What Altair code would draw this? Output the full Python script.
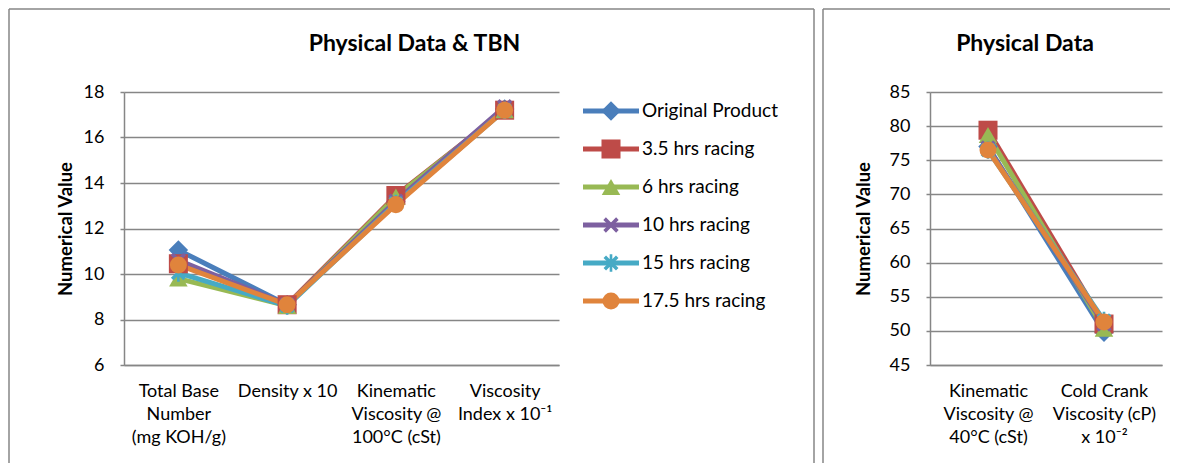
import altair as alt
import pandas as pd

FONT = "Lato"

series = ["Original Product", "3.5 hrs racing", "6 hrs racing",
          "10 hrs racing", "15 hrs racing", "17.5 hrs racing"]
colors = ["#4A7EBB", "#BE4B48", "#98B954", "#7D60A0", "#46AAC5", "#E0843C"]

cats_left = ["Total Base|Number|(mg KOH/g)", "Density x 10",
             "Kinematic|Viscosity @|100°C (cSt)", "Viscosity|Index x 10⁻¹"]
cats_right = ["Kinematic|Viscosity @|40°C (cSt)", "Cold Crank|Viscosity (cP)|x 10⁻²"]

left_original = [11.05, 8.65, 13.2, 17.25]
left_35 = [10.45, 8.65, 13.45, 17.2]
left_6 = [9.8, 8.6, 13.4, 17.2]
left_10 = [10.6, 8.65, 13.2, 17.35]
left_15 = [10.05, 8.6, 13.1, 17.2]
left_175 = [10.4, 8.65, 13.05, 17.2]

right_original = [77.0, 49.8]
right_35 = [79.4, 51.0]
right_6 = [78.7, 50.3]
right_10 = [76.8, 51.0]
right_15 = [76.5, 51.5]
right_175 = [76.5, 51.3]

y_ticks_left = [6, 8, 10, 12, 14, 16, 18]
y_ticks_right = [45, 50, 55, 60, 65, 70, 75, 80, 85]

left_vals = [left_original, left_35, left_6, left_10, left_15, left_175]
right_vals = [right_original, right_35, right_6, right_10, right_15, right_175]

X_PATH = ("M0.566,-0.849L0.849,-0.566L0.283,0L0.849,0.566L0.566,0.849L0,0.283"
          "L-0.566,0.849L-0.849,0.566L-0.283,0L-0.849,-0.566L-0.566,-0.849L0,-0.283Z")
AST_PATH = X_PATH + "M-0.15,-1L0.15,-1L0.15,1L-0.15,1Z"
shapes = ["diamond", "square", "triangle-up", X_PATH, AST_PATH, "circle"]
sizes_plot = [380, 290, 300, 170, 170, 420]
sizes_leg = [90, 140, 120, 80, 80, 160]


def long_df(cats, vals):
    rows = []
    for s, v in zip(series, vals):
        for c, val in zip(cats, v):
            rows.append({"series": s, "cat": c, "value": val})
    return pd.DataFrame(rows)


color_scale = alt.Scale(domain=series, range=colors)
shape_scale = alt.Scale(domain=series, range=shapes)
GRID = "#868686"
one = pd.DataFrame({"k": [0]})


def rule(x, y, x2=None, y2=None):
    enc = {"x": alt.value(x), "y": alt.value(y)}
    if x2 is not None:
        enc["x2"] = alt.value(x2)
    if y2 is not None:
        enc["y2"] = alt.value(y2)
    return alt.Chart(one).mark_rule(color=GRID, strokeWidth=1.5).encode(**enc)


def panel(cats, vals, yticks, width, title, title_x, frame, with_legend):
    df = long_df(cats, vals)
    xenc = alt.X("cat:N", sort=cats, scale=alt.Scale(padding=0.5),
                 axis=alt.Axis(title=None, labelAngle=0, ticks=False, tickSize=0,
                               grid=False, labelPadding=17, labelLineHeight=23,
                               labelExpr="split(datum.label, '|')",
                               labelOverlap=False, labelFontSize=18,
                               domainColor=GRID, domainWidth=1.5,
                               labelColor="black", labelFont=FONT, labelLimit=300))
    yenc = alt.Y("value:Q", scale=alt.Scale(domain=[yticks[0], yticks[-1]], nice=False, zero=False),
                 axis=alt.Axis(values=yticks, title="Numerical Value", titleFont=FONT,
                               titleFontSize=18.5, titleFontWeight="bold", titleColor="black",
                               titleAngle=270, titleX=-(59 if with_legend else 67), titleY=136.5,
                               titleAlign="center", titleBaseline="middle",
                               labelFont=FONT, labelFontSize=18, labelColor="black",
                               labelPadding=16, tickSize=4, tickColor=GRID, tickWidth=1.5,
                               domainColor=GRID, domainWidth=1.5,
                               gridColor=GRID, gridWidth=1.3))
    base = alt.Chart(df)
    lines = base.mark_line(strokeWidth=5).encode(
        x=xenc, y=yenc,
        color=alt.Color("series:N", scale=color_scale, legend=None),
        detail="series:N")
    pts = base.mark_point(filled=True, opacity=1).encode(
        x=xenc, y=yenc,
        color=alt.Color("series:N", scale=color_scale, legend=None),
        shape=alt.Shape("series:N", scale=shape_scale, legend=None),
        size=alt.Size("series:N", scale=alt.Scale(domain=series, range=sizes_plot), legend=None))
    main = alt.layer(lines, pts)

    title_mark = alt.Chart(one).mark_text(
        text=title, font=FONT, fontSize=23, fontWeight="bold", color="black",
        align="center", baseline="middle").encode(x=alt.value(title_x), y=alt.value(-48))

    fx0, fy0, fx1, fy1 = frame
    frame_layers = [rule(fx0, fy0, x2=fx1), rule(fx0, fy0, y2=fy1)]
    if with_legend:
        frame_layers.append(rule(fx1, fy0, y2=fy1))

    layers = [main]
    if with_legend:
        ldf = pd.DataFrame({"series": series})
        lyenc = alt.Y("series:N", sort=series,
                      scale=alt.Scale(type="point", range=[19, 209], padding=0), axis=None)
        lrule = alt.Chart(ldf).mark_rule(strokeWidth=5).encode(
            x=alt.value(459), x2=alt.value(515), y=lyenc,
            color=alt.Color("series:N", scale=color_scale, legend=None))
        lpts = alt.Chart(ldf).mark_point(filled=True, opacity=1).encode(
            x=alt.value(487), y=lyenc,
            color=alt.Color("series:N", scale=color_scale, legend=None),
            shape=alt.Shape("series:N", scale=shape_scale, legend=None),
            size=alt.Size("series:N", scale=alt.Scale(domain=series, range=sizes_leg), legend=None))
        ltxt = alt.Chart(ldf).mark_text(align="left", baseline="middle", font=FONT,
                                        fontSize=19, color="black").encode(
            x=alt.value(518), y=lyenc, text="series:N")
        layers.append(alt.layer(lrule, lpts, ltxt))
    layers.append(alt.layer(title_mark, *frame_layers))
    ch = alt.layer(*layers).resolve_scale(y="independent").properties(width=width, height=273)
    return ch


left = panel(cats_left, left_vals, y_ticks_left, 435, "Physical Data & TBN", 290.5,
             (-115, -83, 690, 371), True)
right = panel(cats_right, right_vals, y_ticks_right, 232, "Physical Data", 95,
              (-107, -83, 240, 371), False)

chart = alt.hconcat(left, right, spacing=7).properties(padding=0).configure_view(stroke=None)

chart.save("out.html", embed_options={"renderer": "svg", "actions": False})
